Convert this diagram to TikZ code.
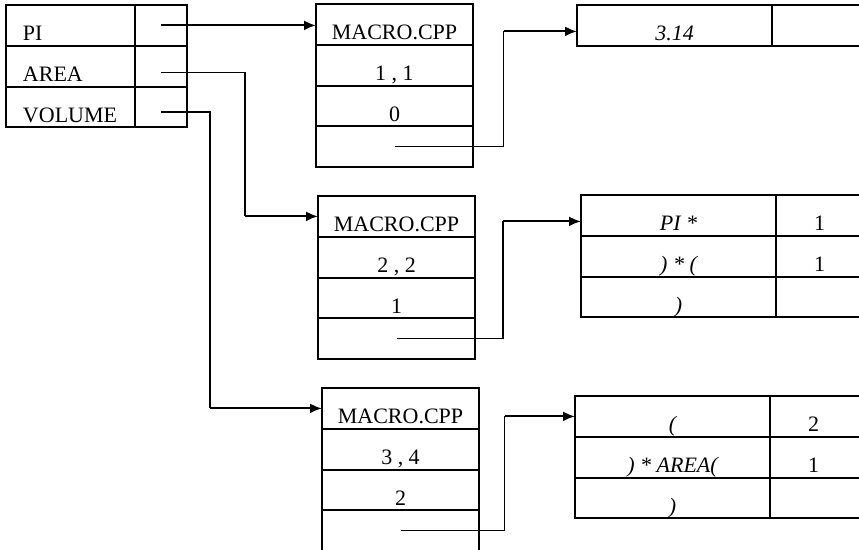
\documentclass[tikz,border=0pt]{standalone}
\usepackage{fontspec}
\setmainfont{Liberation Serif}
\usetikzlibrary{positioning,arrows.meta}
\tikzset{
  cell/.style={draw, line width=1pt, inner sep=0pt, outer sep=0pt,
    minimum height=20.4pt, text height=17.8pt, text depth=2.6pt,
    font=\fontsize{11}{13}\selectfont},
  namecell/.style={cell, inner xsep=8.5pt, text width=47.5pt, align=left},
  ptrcell/.style={cell, minimum width=26pt},
  boxcell/.style={cell, minimum width=78.5pt},
  symcell/.style={cell, minimum width=97.5pt, font=\fontsize{11}{13}\selectfont\itshape},
  numcell/.style={cell, inner xsep=19pt, text width=17pt, align=left},
  wire/.style={line width=0.6pt},
  ptr/.style={line width=1.1pt, -{Latex[length=6pt,width=5pt]}},
}
\begin{document}
\begin{tikzpicture}[x=0.5pt, y=-0.5pt]
            \useasboundingbox (0,0) rectangle (859,550);
            \clip (0,0) rectangle (859,550);
            % names
            \node[namecell, anchor=north west] (pi) at (6,5) {PI};
            \node[namecell, below=0pt of pi] (area) {AREA};
            \node[namecell, below=0pt of area] (vol) {VOLUME};
            \node[ptrcell, right=0pt of pi] (piptr) {};
            \node[ptrcell, right=0pt of area] (areaptr) {};
            \node[ptrcell, right=0pt of vol] (volptr) {};
            % macro records
            \node[boxcell, anchor=north west] (b1a) at (316,4) {MACRO.CPP};
            \node[boxcell, below=0pt of b1a] (b1b) {1 , 1};
            \node[boxcell, below=0pt of b1b] (b1c) {0};
            \node[boxcell, below=0pt of b1c] (b1d) {};
            \node[boxcell, anchor=north west] (b2a) at (318,196) {MACRO.CPP};
            \node[boxcell, below=0pt of b2a] (b2b) {2 , 2};
            \node[boxcell, below=0pt of b2b] (b2c) {1};
            \node[boxcell, below=0pt of b2c] (b2d) {};
            \node[boxcell, anchor=north west] (b3a) at (322,388) {MACRO.CPP};
            \node[boxcell, below=0pt of b3a] (b3b) {3 , 4};
            \node[boxcell, below=0pt of b3b] (b3c) {2};
            \node[boxcell, below=0pt of b3c] (b3d) {};
            % bodies
            \node[symcell, anchor=north west] (t1a) at (577,5) {3.14};
            \node[numcell, right=0pt of t1a] (t1n) {};
            \node[symcell, anchor=north west] (t2a) at (581,195) {PI *};
            \node[symcell, below=0pt of t2a] (t2b) {) * (};
            \node[symcell, below=0pt of t2b] (t2c) {)};
            \node[numcell, right=0pt of t2a] (t2an) {1};
            \node[numcell, right=0pt of t2b] (t2bn) {1};
            \node[numcell, right=0pt of t2c] (t2cn) {};
            \node[symcell, anchor=north west] (t3a) at (575,396) {(};
            \node[symcell, below=0pt of t3a] (t3b) {) * AREA(};
            \node[symcell, below=0pt of t3b] (t3c) {)};
            \node[numcell, right=0pt of t3a] (t3an) {2};
            \node[numcell, right=0pt of t3b] (t3bn) {1};
            \node[numcell, right=0pt of t3c] (t3cn) {};
            \coordinate (t1in) at ([yshift=-3pt]t1a.west);
            \coordinate (t2in) at ([yshift=-3pt]t2a.west);
            % names -> records
            \draw[ptr] (piptr.center) -- (piptr.center -| b1a.west);
            \draw[wire] ([yshift=-3pt]areaptr.center) -- ++(84,0) coordinate (ka) -- (ka |- b2a.west);
            \draw[ptr] (ka |- b2a.west) -- (b2a.west);
            \draw[wire] ([yshift=-2.5pt]volptr.center) -- ++(49,0) coordinate (kv) -- (kv |- b3a.west);
            \draw[ptr] (kv |- b3a.west) -- (b3a.west);
            % records -> bodies
            \draw[wire] (b1d.center) -- ++(109,0) coordinate (k1) -- (k1 |- t1in);
            \draw[ptr] (k1 |- t1in) -- (t1in);
            \draw[wire] (b2d.center) -- ++(106.5,0) coordinate (k2) -- (k2 |- t2in);
            \draw[ptr] (k2 |- t2in) -- (t2in);
            \draw[wire] (b3d.center) -- ++(104,0) coordinate (k3) -- (k3 |- t3a.west);
            \draw[ptr] (k3 |- t3a.west) -- (t3a.west);
        \end{tikzpicture}
\end{document}
